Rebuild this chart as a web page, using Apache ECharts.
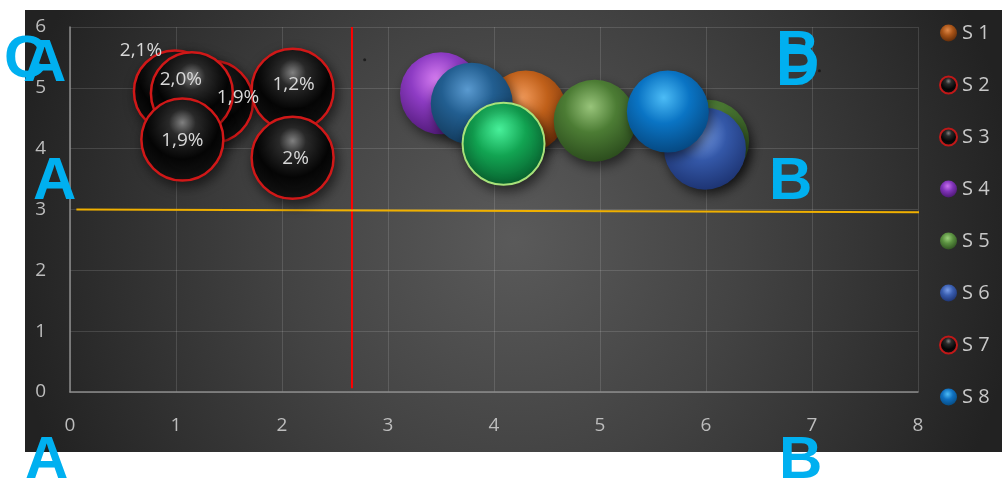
<!DOCTYPE html>
<html>
<head>
<meta charset="utf-8">
<script src="https://cdn.jsdelivr.net/npm/echarts@6/dist/echarts.min.js"></script>
<style>html,body{margin:0;padding:0;background:#fff}#c{width:1002px;height:481px}</style>
</head>
<body>
<div id="c"></div>
<script>
// ---- data ----
const seriesNames = ['S 1', 'S 2', 'S 3', 'S 4', 'S 5', 'S 6', 'S 7', 'S 8'];
const S1 = [[4.30, 4.61]];
const S2 = [[0.99, 4.94, '2,1%'], [2.10, 4.97, '1,2%']];
const S3 = [[1.34, 4.77, '1,9%'], [2.10, 3.85, '2%']];
const S4 = [[3.50, 4.91]];
const S5 = [[4.95, 4.46], [6.02, 4.13], [4.09, 4.08]];
const S6 = [[5.99, 4.00], [3.79, 4.74]];
const S7 = [[1.15, 4.91, '2,0%'], [1.06, 4.15, '1,9%']];
const S8 = [[5.64, 4.61]];
const redLine = [[2.66, 6], [2.66, 0.06]];
const goldLine = [[0.06, 3.0], [8.04, 2.955]];
const dots = [[2.78, 5.46], [7.07, 5.28]];
const overlayLetters = ['C', 'A', 'A', 'A', 'D', 'B', 'B', 'B'];

// ---- styles ----
function sphere(hi, base, edge) {
  return {type: 'radial', x: 0.45, y: 0.33, r: 0.7,
    colorStops: [{offset: 0, color: hi}, {offset: 0.45, color: base}, {offset: 1, color: edge}]};
}
const blackSphere = {type: 'radial', x: 0.5, y: 0.3, r: 0.72,
  colorStops: [{offset: 0, color: '#808080'}, {offset: 0.22, color: '#2a2a2a'},
               {offset: 0.6, color: '#050505'}, {offset: 0.9, color: '#111'}, {offset: 1, color: '#3a0a0a'}]};
const palette = {
  orange: {color: sphere('#f29a5a', '#c0601a', '#6e2e08')},
  purple: {color: sphere('#d87ef2', '#8e3cc4', '#521a7a')},
  steel:  {color: sphere('#5a9ad0', '#225e90', '#123a5c')},
  lime:   {color: sphere('#48f09a', '#12a452', '#075c2c'), borderColor: '#a8e27a', borderWidth: 2},
  olive:  {color: sphere('#98c47a', '#4c7c34', '#2a4a1c')},
  royal:  {color: sphere('#7aa0ea', '#3458a8', '#1c3270')},
  bright: {color: sphere('#4cbcf6', '#0a74c4', '#05467e')},
  black:  {color: blackSphere, borderColor: '#d01818', borderWidth: 2.5}
};
const labelOffsets = {
  'S 2-0': [-34, -41], 'S 7-0': [-11, -14], 'S 3-0': [26, -4],
  'S 7-1': [0, 1], 'S 2-1': [1, -5], 'S 3-1': [3, 1]
};
// draw order back to front: [series name, data array, index, style]
const drawOrder = [
  ['S 4', S4, 0, 'purple'], ['S 1', S1, 0, 'orange'], ['S 6', S6, 1, 'steel'],
  ['S 5', S5, 2, 'lime'], ['S 5', S5, 0, 'olive'], ['S 5', S5, 1, 'olive'],
  ['S 6', S6, 0, 'royal'], ['S 8', S8, 0, 'bright'],
  ['S 2', S2, 0, 'black'], ['S 3', S3, 0, 'black'], ['S 7', S7, 0, 'black'],
  ['S 7', S7, 1, 'black'], ['S 2', S2, 1, 'black'], ['S 3', S3, 1, 'black']
];
const legendIcons = {
  'S 1': {color: sphere('#e08a4a', '#a85418', '#5e2a08'), borderWidth: 0},
  'S 2': {color: blackSphere, borderColor: '#c01818', borderWidth: 2},
  'S 3': {color: blackSphere, borderColor: '#c01818', borderWidth: 2},
  'S 4': {color: sphere('#c870ee', '#8034b8', '#4a1670'), borderWidth: 0},
  'S 5': {color: sphere('#9ad07a', '#5a9040', '#2e5020'), borderWidth: 0},
  'S 6': {color: sphere('#7a9ee8', '#3a5eb0', '#1c3270'), borderWidth: 0},
  'S 7': {color: blackSphere, borderColor: '#c01818', borderWidth: 2},
  'S 8': {color: sphere('#4cbcf6', '#1070c0', '#064a80'), borderWidth: 0}
};
const letterPos = [[4, 60], [23, 64], [33, 182], [25, 461], [776, 68], [776, 55], [769, 182], [779, 461]];

const series = drawOrder.map(function (d) {
  const pt = d[1][d[2]];
  const st = palette[d[3]];
  const key = d[0] + '-' + d[2];
  return {
    type: 'scatter', name: d[0], symbol: 'circle', symbolSize: 82,
    data: [pt.slice(0, 2).concat(pt.length > 2 ? [pt[2]] : [])],
    itemStyle: Object.assign({shadowBlur: 12, shadowColor: 'rgba(0,0,0,0.55)', shadowOffsetX: 3, shadowOffsetY: 5, opacity: 1}, st),
    label: pt.length > 2 ? {
      show: true, position: 'inside', offset: labelOffsets[key] || [0, 0],
      formatter: function (p) { return p.data[2]; },
      color: '#d8d8d8', fontSize: 19, fontFamily: '"Open Sans", sans-serif'
    } : {show: false},
    emphasis: {disabled: true}, silent: true
  };
});
series.unshift(
  {type: 'line', name: 'red', data: redLine, symbol: 'none', clip: false, silent: true,
   lineStyle: {color: '#ff0000', width: 2}, z: 1},
  {type: 'line', name: 'gold', data: goldLine, symbol: 'none', clip: false, silent: true,
   lineStyle: {color: '#f0b000', width: 2}, z: 1},
  {type: 'scatter', name: 'dots', data: dots, symbolSize: 3, itemStyle: {color: '#151515'}, silent: true, z: 1}
);

const graphics = [{
  type: 'rect', z: -10, silent: true,
  shape: {x: 25, y: 10, width: 977, height: 442},
  style: {fill: {type: 'radial', x: 0.5, y: 0.52, r: 1.15,
    colorStops: [{offset: 0, color: '#5a5a5a'}, {offset: 0.45, color: '#434343'}, {offset: 1, color: '#222'}]}}
}];
overlayLetters.forEach(function (t, i) {
  graphics.push({type: 'text', z: 100, silent: true,
    style: {text: t, x: letterPos[i][0], y: letterPos[i][1], fill: '#00b0f0',
      font: 'bold 60px "Liberation Sans", Arial, sans-serif', align: 'left', verticalAlign: 'middle'}});
});

const chart = echarts.init(document.getElementById('c'), null, {renderer: 'canvas'});
chart.setOption({
  animation: false,
  backgroundColor: '#ffffff',
  graphic: graphics,
  grid: {left: 70, right: 84, top: 27, bottom: 89, containLabel: false},
  xAxis: {
    type: 'value', min: 0, max: 8, interval: 1,
    axisLine: {show: true, onZero: false, lineStyle: {color: '#8c8c8c', width: 1.5}},
    axisTick: {show: false},
    axisLabel: {color: '#bdbdbd', fontSize: 19, margin: 24, fontFamily: '"Open Sans", sans-serif'},
    splitLine: {show: true, lineStyle: {color: 'rgba(255,255,255,0.13)', width: 1}}
  },
  yAxis: {
    type: 'value', min: 0, max: 6, interval: 1,
    axisLine: {show: true, onZero: false, lineStyle: {color: '#8c8c8c', width: 1.5}},
    axisTick: {show: false},
    axisLabel: {color: '#bdbdbd', fontSize: 19, margin: 24, fontFamily: '"Open Sans", sans-serif'},
    splitLine: {show: true, lineStyle: {color: 'rgba(255,255,255,0.13)', width: 1}}
  },
  legend: {
    orient: 'vertical', left: 934, top: 18, itemGap: 32, itemWidth: 17, itemHeight: 17,
    icon: 'circle', selectedMode: false,
    data: seriesNames.map(function (n) { return {name: n, itemStyle: legendIcons[n]}; }),
    textStyle: {color: '#c8c8c8', fontSize: 20, lineHeight: 20, fontFamily: '"Open Sans", sans-serif'}
  },
  series: series
});
</script>
</body>
</html>
